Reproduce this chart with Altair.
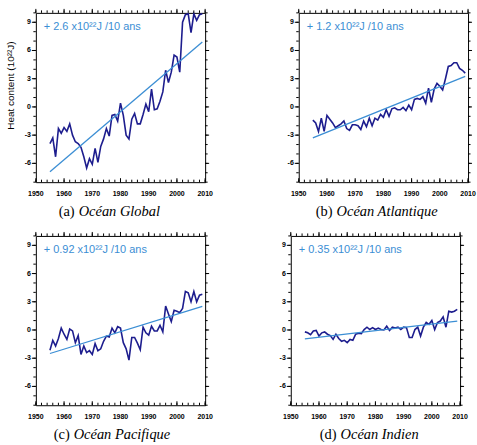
import altair as alt
import pandas as pd

# ---------------- data ----------------
years = list(range(1955, 2010))

global_hc = [-3.9, -3.3, -5.3, -2.3, -2.8,
             -2.2, -2.6, -1.8, -3.0, -3.7, -3.9, -4.3, -5.3, -6.5, -5.5,
             -6.1, -4.4, -5.9, -4.2, -3.4, -2.3, -3.1, -0.9, -0.8, -1.5,
             0.4, -0.9, -3.0, -3.4, -1.3, -0.7, -1.8, -1.8, -0.8, 0.3,
             -0.5, 1.9, -0.3, -0.2, 0.6, 1.6, 3.9, 2.6, 3.7, 5.5,
             5.3, 3.7, 9.0, 9.8, 9.9, 7.9, 9.9, 9.2, 9.8, 9.9]

atlantic_hc = [-1.4, -1.7, -2.6, -1.2, -2.6,
               -0.9, -1.3, -1.7, -2.2, -2.0, -1.8, -1.5, -2.3, -2.5, -1.9,
               -1.9, -2.0, -2.4, -1.5, -2.1, -1.2, -2.0, -1.2, -1.4, -0.8,
               -1.1, -0.3, -1.0, -0.2, -0.1, -0.3, -0.3, -0.05, -0.4, 0.2,
               -0.3, 0.8, 0.9, 0.8, 1.1, 0.4, 2.0, 0.5, 1.9, 2.5,
               2.2, 1.8, 3.0, 4.3, 4.4, 4.7, 4.7, 4.1, 3.9, 3.6]

pacific_hc = [-2.15, -1.1, -1.7, -0.9, 0.2,
              -0.45, -1.0, 0.1, -0.1, -1.35, -0.6, -2.6, -1.7, -2.4, -2.2,
              -2.6, -1.45, -2.2, -2.0, -1.2, -0.65, -0.75, 0.2, -0.3, 0.35,
              0.2, -1.35, -2.0, -3.2, -0.8, -0.8, -1.4, -2.1, 0.3, -0.3,
              -0.55, 0.4, -0.1, -0.1, 0.5, -0.2, 2.55, 1.7, 0.9, 2.1,
              2.0, 1.85, 2.3, 4.1, 3.95, 3.0, 4.1, 3.0, 3.7, 3.8]

indian_hc = [-0.2, -0.3, -0.5, -0.1, -0.05,
             -0.65, -0.3, -0.2, -0.45, -0.6, -1.0, -0.45, -0.9, -1.2, -1.1,
             -1.35, -1.0, -1.1, -0.45, -0.35, -0.4, 0.05, 0.3, 0.05, 0.25,
             0.05, 0.2, 0.05, 0.0, 0.4, -0.05, 0.3, 0.2, 0.3, 0.05,
             0.3, 0.25, -0.8, -0.8, 0.05, 0.3, -0.65, 0.3, 0.8, 0.6,
             1.0, 0.05, 0.8, 0.95, 1.4, 0.3, 2.0, 1.9, 2.0, 2.2]

trend_years = [1955, 2009]
global_trend = [-6.9, 6.9]
atlantic_trend = [-3.3, 3.25]
pacific_trend = [-2.5, 2.5]
indian_trend = [-0.95, 0.95]

rates = ["+ 2.6 x10²²J /10 ans", "+ 1.2 x10²²J /10 ans",
         "+ 0.92 x10²²J /10 ans", "+ 0.35 x10²²J /10 ans"]
letters = ["(a)", "(b)", "(c)", "(d)"]
names = ["Océan Global", "Océan Atlantique", "Océan Pacifique", "Océan Indien"]
y_title = "Heat content (10²²J)"

x_major = [1950, 1960, 1970, 1980, 1990, 2000, 2010]
x_labels = ["1950", "1960", "1970", "1980", "1990", "2000", "2010"]
x_minor = list(range(1950, 2011, 2))
y_major = [-6, -3, 0, 3, 6, 9]
y_labels = ["-6", "-3", "0", "3", "6", "9"]
y_minor = list(range(-8, 11))

# ---------------- style ----------------
W, H = 170, 170
NAVY = "#1d1d8e"
BLUE = "#3b8ed4"
LABEL_FONT = "Liberation Sans"
SERIF = "Liberation Serif"

xs = alt.Scale(domain=[1950, 2010], nice=False, zero=False)
ys = alt.Scale(domain=[-8, 10], nice=False, zero=False)


def panel(values, trend, rate, letter, name, cap_x, left_ext, ytitle=None):
    df = pd.DataFrame({"year": years, "hc": values})
    tdf = pd.DataFrame({"year": trend_years, "hc": trend})

    # invisible y axis only used to reserve room on the left
    yaxis = alt.Axis(labels=False, ticks=False, domain=False, grid=False,
                     title=None, minExtent=left_ext, maxExtent=left_ext)

    line = alt.Chart(df).mark_line(color=NAVY, strokeWidth=1.6).encode(
        x=alt.X("year:Q", scale=xs, axis=None),
        y=alt.Y("hc:Q", scale=ys, axis=yaxis),
    )
    tline = alt.Chart(tdf).mark_line(color=BLUE, strokeWidth=1.3).encode(
        x="year:Q", y="hc:Q")

    xmaj = pd.DataFrame({"year": x_major, "lab": x_labels})
    xmin = pd.DataFrame({"year": x_minor})
    ymaj = pd.DataFrame({"hc": y_major, "lab": y_labels})
    ymin = pd.DataFrame({"hc": y_minor})

    def rule(data):
        return alt.Chart(data).mark_rule(color="black", strokeWidth=1)

    ticks = [
        # bottom (inward)
        rule(xmaj).encode(x="year:Q", y=alt.value(H), y2=alt.value(H - 4)),
        rule(xmin).encode(x="year:Q", y=alt.value(H), y2=alt.value(H - 2.5)),
        # top (outward)
        rule(xmaj).encode(x="year:Q", y=alt.value(0), y2=alt.value(-4)),
        rule(xmin).encode(x="year:Q", y=alt.value(0), y2=alt.value(-2.5)),
        # left (outward)
        rule(ymaj).encode(y="hc:Q", x=alt.value(0), x2=alt.value(-4)),
        rule(ymin).encode(y="hc:Q", x=alt.value(0), x2=alt.value(-2.5)),
        # right (outward)
        rule(ymaj).encode(y="hc:Q", x=alt.value(W), x2=alt.value(W + 4)),
        rule(ymin).encode(y="hc:Q", x=alt.value(W), x2=alt.value(W + 2.5)),
    ]

    xlab = alt.Chart(xmaj).mark_text(
        align="center", baseline="middle", fontSize=7, fontWeight="bold",
        font=LABEL_FONT, color="black").encode(
        x="year:Q", y=alt.value(H + 12), text="lab:N")
    ylab = alt.Chart(ymaj).mark_text(
        align="right", baseline="middle", fontSize=7, fontWeight="bold",
        font=LABEL_FONT, color="black").encode(
        y="hc:Q", x=alt.value(-5), text="lab:N")

    ann = alt.Chart(pd.DataFrame({"t": [rate]})).mark_text(
        align="left", baseline="middle", fontSize=11, font=LABEL_FONT,
        color=BLUE).encode(x=alt.value(8), y=alt.value(14), text="t:N")

    cap1 = alt.Chart(pd.DataFrame({"t": [letter]})).mark_text(
        align="right", baseline="middle", fontSize=14.5, font=SERIF,
        color="black").encode(x=alt.value(cap_x), y=alt.value(H + 30),
                              text="t:N")
    cap2 = alt.Chart(pd.DataFrame({"t": [name]})).mark_text(
        align="left", baseline="middle", fontSize=14.5, font=SERIF,
        fontStyle="italic", color="black").encode(
        x=alt.value(cap_x + 4), y=alt.value(H + 30), text="t:N")

    layers = [line, tline, *ticks, xlab, ylab, ann, cap1, cap2]
    if ytitle:
        ttl = alt.Chart(pd.DataFrame({"t": [ytitle]})).mark_text(
            align="center", baseline="middle", fontSize=10, font=LABEL_FONT,
            angle=270, color="black").encode(
            x=alt.value(-25), y=alt.value(H / 2 - 12), text="t:N")
        layers.append(ttl)

    return alt.layer(*layers).properties(width=W, height=H)


pa = panel(global_hc, global_trend, rates[0], letters[0], names[0], 39, 30,
           ytitle=y_title)
pb = panel(atlantic_hc, atlantic_trend, rates[1], letters[1], names[1], 34, 20)
pc = panel(pacific_hc, pacific_trend, rates[2], letters[2], names[2], 34, 22)
pd_ = panel(indian_hc, indian_trend, rates[3], letters[3], names[3], 46, 12)

chart = alt.concat(pa, pb, pc, pd_, columns=2).properties(
    align="none",
    spacing={"row": 12, "column": 64},
    padding={"left": 5, "top": 7, "right": 0, "bottom": 0},
    background="white",
).configure_view(stroke="black", strokeWidth=1)

chart.save("out.html", embed_options={"renderer": "svg", "actions": False})
